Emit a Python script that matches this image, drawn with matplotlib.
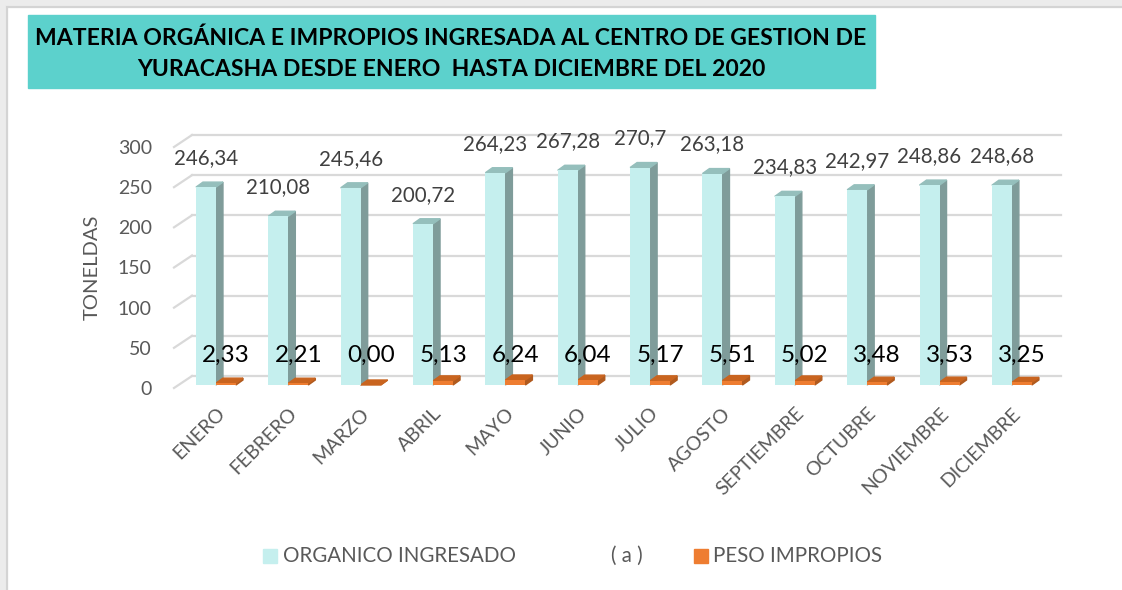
import numpy as np
import matplotlib
matplotlib.use('Agg')
import matplotlib.pyplot as plt
from matplotlib.patches import Rectangle, Polygon

months = ['ENERO', 'FEBRERO', 'MARZO', 'ABRIL', 'MAYO', 'JUNIO', 'JULIO',
          'AGOSTO', 'SEPTIEMBRE', 'OCTUBRE', 'NOVIEMBRE', 'DICIEMBRE']
organico = [246.34, 210.08, 245.46, 200.72, 264.23, 267.28, 270.7,
            263.18, 234.83, 242.97, 248.86, 248.68]
impropios = [2.33, 2.21, 0.00, 5.13, 6.24, 6.04, 5.17,
             5.51, 5.02, 3.48, 3.53, 3.25]
org_labels = ['246,34', '210,08', '245,46', '200,72', '264,23', '267,28', '270,7',
              '263,18', '234,83', '242,97', '248,86', '248,68']
imp_labels = ['2,33', '2,21', '0,00', '5,13', '6,24', '6,04', '5,17',
              '5,51', '5,02', '3,48', '3,53', '3,25']
yticks = [0, 50, 100, 150, 200, 250, 300]

plt.rcParams['font.family'] = ['Lato', 'DejaVu Sans']

W, H = 1122, 590
fig = plt.figure(figsize=(W / 100, H / 100), dpi=100)
fig.patch.set_facecolor('white')

# screenshot frame
fig.patches.append(Rectangle((0, 1 - 7 / H), 1, 7 / H, transform=fig.transFigure,
                             color='#ECECEC', zorder=0))
fig.patches.append(Rectangle((0, 0), 7 / W, 1, transform=fig.transFigure,
                             color='#ECECEC', zorder=0))
fig.lines.append(plt.Line2D([7 / W, 1], [1 - 7 / H, 1 - 7 / H], transform=fig.transFigure,
                            color='#D4D4D4', lw=1.5))
fig.lines.append(plt.Line2D([7 / W, 7 / W], [0, 1 - 7 / H], transform=fig.transFigure,
                            color='#D4D4D4', lw=1.5))

# title box
fig.patches.append(Rectangle((28 / W, 1 - 88 / H), 847 / W, 73 / H, transform=fig.transFigure,
                             color='#5CD1CC', zorder=1))
fig.text(451 / W, 1 - 38 / H, 'MATERIA ORGÁNICA E IMPROPIOS INGRESADA AL CENTRO DE GESTION DE',
         ha='center', va='center', fontsize=16.6, fontweight='bold', color='black')
fig.text(451 / W, 1 - 70 / H, 'YURACASHA DESDE ENERO  HASTA DICIEMBRE DEL 2020',
         ha='center', va='center', fontsize=16.6, fontweight='bold', color='black')

# axes = front plane of the 3d chart
x0, x1 = 174, 1043
ax = fig.add_axes([x0 / W, (H - 388) / H, (x1 - x0) / W, 241 / H])
n = len(months)
x = np.arange(n)
xmin, xmax = -0.58, 11.43
ax.set_xlim(xmin, xmax)
ax.set_ylim(0, 300)
ppx = (x1 - x0) / (xmax - xmin)
ppy = 241 / 300
for s in ax.spines.values():
    s.set_visible(False)

# back wall gridlines
gx, gy = 18 / ppx, 12 / ppy
for v in yticks:
    ax.plot([xmin + gx, xmax + gx], [v + gy, v + gy], color='#D9D9D9', lw=1.6,
            clip_on=False, zorder=1)
    ax.plot([xmin, xmin + gx], [v, v + gy], color='#D9D9D9', lw=1.6,
            clip_on=False, zorder=1)

w = 20 / ppx
dx, dy = 7 / ppx, 5 / ppy
base = 3 / ppy

def bar3d(xc, h, front, side, top):
    ax.bar(xc, h, w, bottom=base, color=front, zorder=3)
    l, r = xc - w / 2, xc + w / 2
    b, t = base, base + h
    ax.add_patch(Polygon([(r, b), (r, t), (r + dx, t + dy), (r + dx, b + dy)],
                         closed=True, color=side, zorder=2, clip_on=False))
    ax.add_patch(Polygon([(l, t), (r, t), (r + dx, t + dy), (l + dx, t + dy)],
                         closed=True, color=top, zorder=2, clip_on=False))

for i in range(n):
    bar3d(x[i] - w / 2, organico[i], '#C5EFEE', '#7F9C9A', '#95BFBC')
    bar3d(x[i] + w / 2, impropios[i], '#EE7D31', '#B05A1E', '#C9641F')
    ax.text(x[i] - w / 2, organico[i] + 40, org_labels[i], ha='center', va='center',
            fontsize=14.8, color='#404040', zorder=5, clip_on=False)
    ax.text(x[i] + w / 2, 41, imp_labels[i], ha='center', va='center',
            fontsize=17.5, color='black', zorder=5)

ax.set_yticks(yticks)
ax.set_yticklabels([str(v) for v in yticks], fontsize=14, color='#595959')
ax.set_xticks(x)
ax.set_xticklabels(months, rotation=45, ha='right', va='top', rotation_mode='anchor',
                   fontsize=14, color='#595959')
ax.tick_params(axis='y', length=0, pad=16)
ax.tick_params(axis='x', length=0, pad=12)
ax.set_ylabel('TONELDAS', fontsize=14.5, color='#595959')
ax.yaxis.set_label_coords((101 - x0) / (x1 - x0), 0.5)

# legend
fig.patches.append(Rectangle((263 / W, 1 - 563 / H), 14 / W, 14 / H, transform=fig.transFigure,
                             color='#C5EFEE'))
fig.text(283 / W, 1 - 556 / H, 'ORGANICO INGRESADO', ha='left', va='center',
         fontsize=14.8, color='#595959')
fig.text(627 / W, 1 - 556 / H, '( a )', ha='center', va='center', fontsize=14.8, color='#595959')
fig.patches.append(Rectangle((694 / W, 1 - 563 / H), 14 / W, 14 / H, transform=fig.transFigure,
                             color='#EE7D31'))
fig.text(713 / W, 1 - 556 / H, 'PESO IMPROPIOS', ha='left', va='center',
         fontsize=14.8, color='#595959')

fig.savefig('out.png', dpi=100)
